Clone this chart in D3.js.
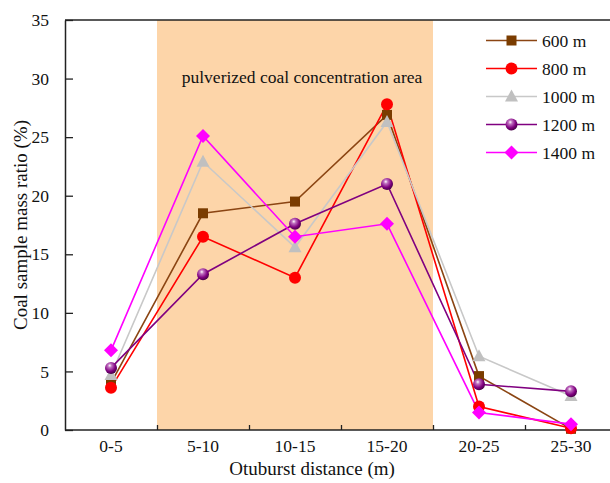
<!DOCTYPE html>
<html>
<head>
<meta charset="utf-8">
<script src="https://cdn.jsdelivr.net/npm/d3@7"></script>
<style>
  html, body { margin: 0; padding: 0; background: #fff; }
  svg text { font-family: "Liberation Serif", "DejaVu Serif", serif !important; }
</style>
</head>
<body>
<svg id="chart" width="610" height="483"></svg>
<script>
const categories = ["0-5", "5-10", "10-15", "15-20", "20-25", "25-30"];
const yTicks = [0, 5, 10, 15, 20, 25, 30, 35];
const seriesNames = ["600 m", "800 m", "1000 m", "1200 m", "1400 m"];
const s600  = [4.0, 18.5, 19.5, 26.9, 4.6, 0.1];
const s800  = [3.6, 16.5, 13.0, 27.8, 2.0, 0.15];
const s1000 = [4.7, 22.9, 15.6, 26.3, 6.3, 2.9];
const s1200 = [5.3, 13.3, 17.6, 21.0, 3.9, 3.3];
const s1400 = [6.8, 25.1, 16.5, 17.6, 1.5, 0.5];
const highlightRange = [0.5, 3.5];
const highlightLabel = "pulverized coal concentration area";

const series = [
  { name: seriesNames[0], values: s600,  line: "#8B4513", fill: "#7a3c00", shape: "square" },
  { name: seriesNames[1], values: s800,  line: "#ff0000", fill: "#ff0000", shape: "circle" },
  { name: seriesNames[2], values: s1000, line: "#c8c8c8", fill: "#c0c0c0", shape: "triangle" },
  { name: seriesNames[3], values: s1200, line: "#800080", fill: "url(#sphere)", shape: "sphere" },
  { name: seriesNames[4], values: s1400, line: "#ff00ff", fill: "#ff00ff", shape: "diamond" }
];

const FONT = "Liberation Serif, DejaVu Serif, serif";
const svg = d3.select("#chart").attr("font-family", FONT);
const pLeft = 65, pTop = 20, pBottom = 430, pRight = 617;

const defs = svg.append("defs");
const grad = defs.append("radialGradient").attr("id", "sphere")
  .attr("cx", "40%").attr("cy", "35%").attr("r", "65%").attr("fx", "40%").attr("fy", "30%");
grad.append("stop").attr("offset", "0%").attr("stop-color", "#ffffff");
grad.append("stop").attr("offset", "25%").attr("stop-color", "#c070c0");
grad.append("stop").attr("offset", "70%").attr("stop-color", "#800080");
grad.append("stop").attr("offset", "100%").attr("stop-color", "#4a004a");

const x = d3.scaleLinear().domain([-0.5, 5.5]).range([pLeft, pRight]);
const y = d3.scaleLinear().domain([0, 35]).range([pBottom, pTop]);

// highlight band
svg.append("rect")
  .attr("x", x(highlightRange[0])).attr("y", y(35))
  .attr("width", x(highlightRange[1]) - x(highlightRange[0]))
  .attr("height", y(0) - y(35))
  .attr("fill", "#fdd5a9");

svg.append("text")
  .attr("x", 302)
  .attr("y", 83)
  .attr("text-anchor", "middle")
  .attr("font-size", 17.5)
  .attr("font-family", FONT)
  .attr("fill", "#111")
  .text(highlightLabel);

// axes
const yAxis = d3.axisLeft(y).tickValues(yTicks).tickSizeInner(-8).tickSizeOuter(0).tickPadding(16);
const gy = svg.append("g").attr("transform", `translate(${pLeft},0)`).call(yAxis)
  .attr("font-family", FONT);
gy.selectAll("text").attr("font-size", 17.5).attr("fill", "#111").attr("font-family", FONT);
gy.select(".domain").attr("stroke", "#222").attr("stroke-width", 1.5);
gy.selectAll(".tick line").attr("stroke", "#222").attr("stroke-width", 1.3);

const xAxis = d3.axisBottom(x).tickValues([0.5, 1.5, 2.5, 3.5, 4.5]).tickSizeInner(-5).tickSizeOuter(0).tickFormat("");
const gx = svg.append("g").attr("transform", `translate(0,${pBottom})`).call(xAxis);
gx.select(".domain").remove();
gx.selectAll(".tick line").attr("stroke", "#222").attr("stroke-width", 1.3);

// frame lines: bottom and top
svg.append("line").attr("x1", pLeft).attr("x2", 610).attr("y1", pBottom).attr("y2", pBottom)
  .attr("stroke", "#222").attr("stroke-width", 1.5);
svg.append("line").attr("x1", pLeft).attr("x2", 610).attr("y1", pTop).attr("y2", pTop)
  .attr("stroke", "#222").attr("stroke-width", 1.5);

// category labels
svg.append("g").selectAll("text").data(categories).join("text")
  .attr("x", (d, i) => x(i)).attr("y", 452)
  .attr("text-anchor", "middle").attr("font-size", 17.5).attr("fill", "#111")
  .attr("font-family", FONT)
  .text(d => d);

// axis titles
svg.append("text").attr("x", 312).attr("y", 475)
  .attr("text-anchor", "middle").attr("font-size", 19).attr("fill", "#111")
  .attr("font-family", FONT)
  .text("Otuburst distance (m)");
svg.append("text")
  .attr("transform", `translate(27,${(pTop + pBottom) / 2}) rotate(-90)`)
  .attr("text-anchor", "middle").attr("font-size", 19).attr("fill", "#111")
  .attr("font-family", FONT)
  .text("Coal sample mass ratio (%)");

function drawMarker(g, shape, fill, cx, cy) {
  if (shape === "square") {
    g.append("rect").attr("x", cx - 5).attr("y", cy - 5).attr("width", 10).attr("height", 10).attr("fill", fill);
  } else if (shape === "circle") {
    g.append("circle").attr("cx", cx).attr("cy", cy).attr("r", 6).attr("fill", fill);
  } else if (shape === "triangle") {
    g.append("path").attr("d", `M${cx},${cy - 7}L${cx + 6.5},${cy + 5}L${cx - 6.5},${cy + 5}Z`).attr("fill", fill);
  } else if (shape === "sphere") {
    g.append("circle").attr("cx", cx).attr("cy", cy).attr("r", 6).attr("fill", fill);
  } else if (shape === "diamond") {
    g.append("path").attr("d", `M${cx},${cy - 7}L${cx + 7},${cy}L${cx},${cy + 7}L${cx - 7},${cy}Z`).attr("fill", fill);
  }
}

const line = d3.line().x((d, i) => x(i)).y(d => y(d));
series.forEach(s => {
  svg.append("path").datum(s.values).attr("d", line)
    .attr("fill", "none").attr("stroke", s.line).attr("stroke-width", 1.6);
});
series.forEach(s => {
  const g = svg.append("g");
  s.values.forEach((v, i) => drawMarker(g, s.shape, s.fill, x(i), y(v)));
});

// legend
const legendY0 = 40.5, legendStep = 28;
series.forEach((s, k) => {
  const ly = legendY0 + k * legendStep;
  const g = svg.append("g");
  g.append("line").attr("x1", 486).attr("x2", 537).attr("y1", ly).attr("y2", ly)
    .attr("stroke", s.line).attr("stroke-width", 1.6);
  drawMarker(g, s.shape, s.fill, 511.5, ly);
  g.append("text").attr("x", 542).attr("y", ly + 6).attr("font-size", 17.5).attr("fill", "#111")
    .attr("font-family", FONT).text(s.name);
});
</script>
</body>
</html>
